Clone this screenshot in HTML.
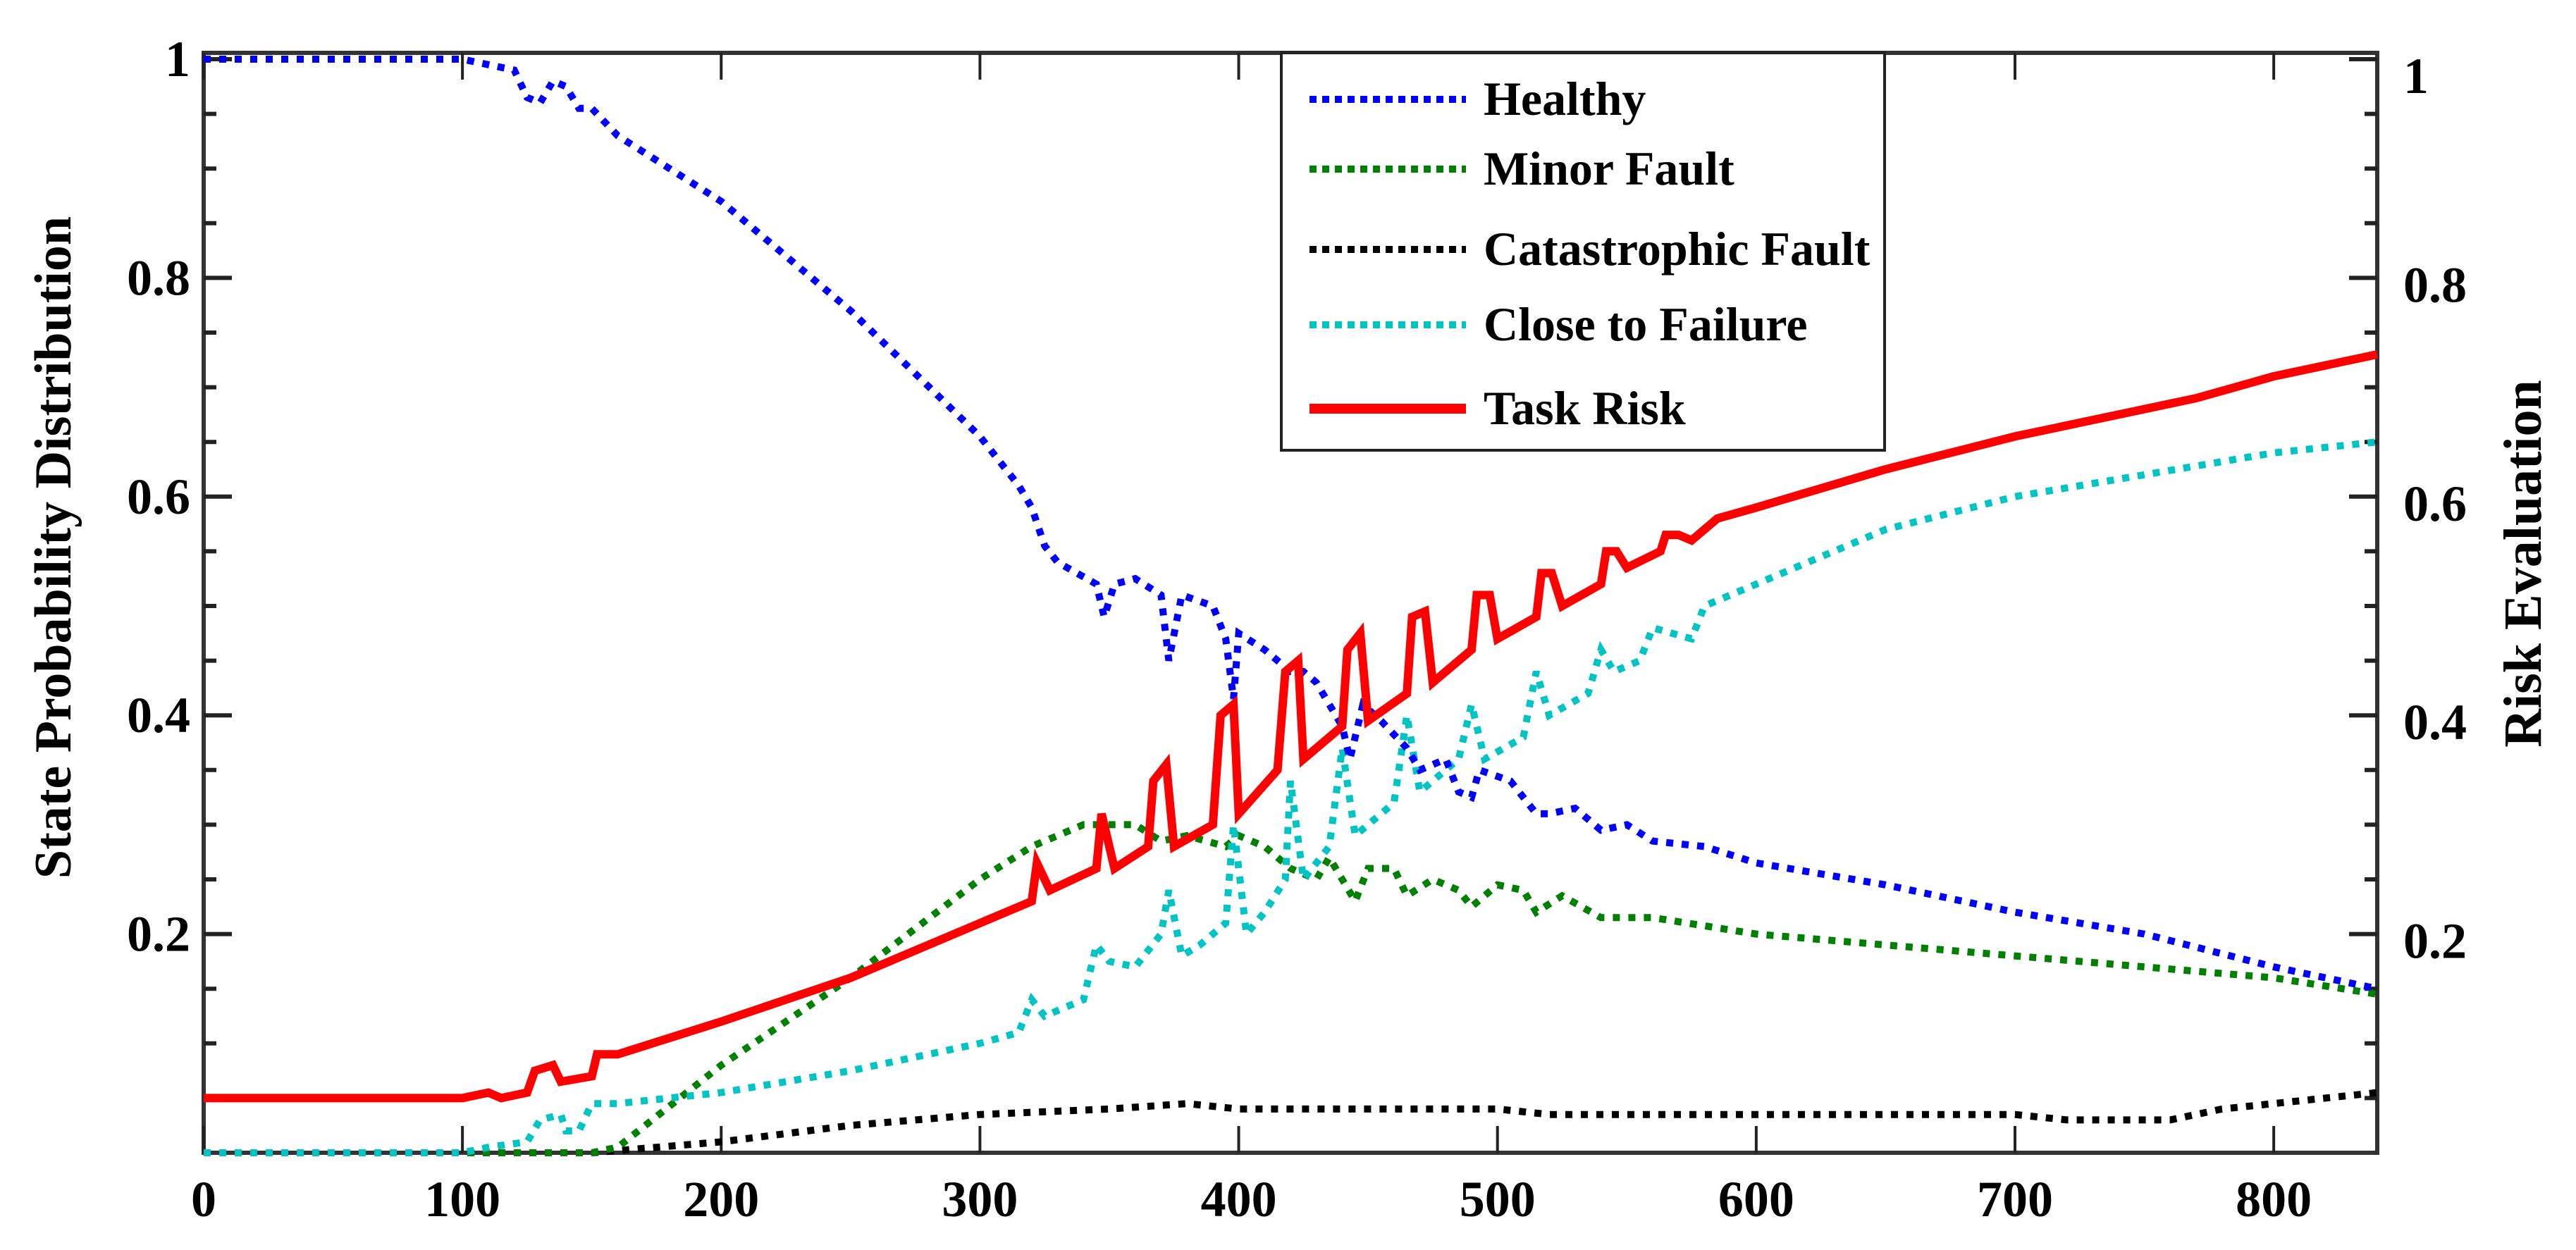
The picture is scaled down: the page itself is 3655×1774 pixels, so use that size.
<!DOCTYPE html>
<html><head><meta charset="utf-8"><style>
html,body{margin:0;padding:0;background:#fff;}
svg{display:block;}
text{font-family:"Liberation Serif",serif;font-weight:bold;fill:#000;}
</style></head><body>
<svg id="chart" width="3655" height="1774" viewBox="0 0 3655 1774" xmlns="http://www.w3.org/2000/svg"></svg>
<script>
const xTicks=[0,100,200,300,400,500,600,700,800];
const yTicksLeft=[0.2,0.4,0.6,0.8,1];
const yTicksRight=[0.2,0.4,0.6,0.8,1];
const healthyX=[0,100,110,120,125,130,135,140,145,150,160,200,250,300,315,320,325,330,345,348,352,360,370,373,378,390,395,398,400,410,420,425,430,440,443,448,455,465,470,480,485,490,493,505,515,520,530,540,550,560,580,600,650,700,750,800,840];
const healthyY=[1,1,0.995,0.99,0.965,0.96,0.98,0.975,0.955,0.955,0.93,0.87,0.77,0.655,0.61,0.59,0.555,0.54,0.52,0.49,0.52,0.525,0.51,0.45,0.51,0.5,0.47,0.415,0.475,0.46,0.44,0.44,0.43,0.39,0.36,0.41,0.395,0.37,0.35,0.36,0.33,0.325,0.35,0.34,0.31,0.31,0.315,0.295,0.3,0.285,0.28,0.265,0.245,0.22,0.2,0.17,0.15];
const minorX=[0,150,160,200,250,300,320,340,360,370,380,395,400,410,420,430,435,440,445,450,460,465,475,485,490,500,510,515,525,540,560,600,650,700,750,800,840];
const minorY=[0,0,0.005,0.08,0.16,0.25,0.28,0.3,0.3,0.285,0.29,0.28,0.29,0.28,0.26,0.25,0.27,0.25,0.23,0.26,0.26,0.235,0.25,0.24,0.225,0.245,0.24,0.22,0.235,0.215,0.215,0.2,0.19,0.18,0.17,0.16,0.145];
const catX=[0,150,200,250,300,350,380,400,450,500,520,600,700,720,760,780,800,840];
const catY=[0,0,0.01,0.025,0.035,0.04,0.045,0.04,0.04,0.04,0.035,0.035,0.035,0.03,0.03,0.04,0.045,0.055];
const closeX=[0,100,110,125,130,138,140,145,150,160,200,250,300,315,320,325,340,345,350,360,370,373,378,385,395,398,403,410,418,420,425,435,440,445,460,465,470,485,490,495,510,515,520,535,540,545,555,560,575,580,600,650,700,750,800,840];
const closeY=[0,0,0.005,0.01,0.03,0.035,0.02,0.02,0.045,0.045,0.055,0.075,0.1,0.11,0.14,0.125,0.14,0.19,0.175,0.17,0.2,0.24,0.18,0.19,0.21,0.3,0.2,0.22,0.25,0.34,0.25,0.28,0.37,0.29,0.32,0.4,0.33,0.36,0.41,0.36,0.38,0.44,0.4,0.42,0.46,0.44,0.45,0.48,0.47,0.5,0.52,0.57,0.6,0.62,0.64,0.65];
const riskX=[0,100,110,115,125,128,135,138,150,152,160,200,250,300,310,320,322,327,345,347,352,365,367,372,375,390,393,398,400,415,418,423,425,440,442,447,450,465,467,472,475,490,492,497,500,515,517,521,525,540,542,546,550,563,565,570,575,585,600,650,700,750,770,800,840];
const riskY=[0.05,0.05,0.055,0.05,0.055,0.075,0.08,0.065,0.07,0.09,0.09,0.12,0.16,0.21,0.22,0.23,0.265,0.24,0.26,0.31,0.26,0.28,0.34,0.355,0.28,0.3,0.4,0.41,0.31,0.35,0.44,0.45,0.36,0.39,0.46,0.475,0.395,0.42,0.49,0.495,0.43,0.46,0.51,0.51,0.47,0.49,0.53,0.53,0.5,0.52,0.55,0.55,0.535,0.55,0.565,0.565,0.56,0.58,0.59,0.625,0.655,0.68,0.69,0.71,0.73];

const NS='http://www.w3.org/2000/svg';
const svg=document.getElementById('chart');
const X0=289,X1=3373,Y0=1636,Y1=84;
const sx=v=>X0+(v/840)*(X1-X0);
const sy=v=>Y0-v*(Y0-Y1);
function mk(tag,attrs,parent){const e=document.createElementNS(NS,tag);for(const k in attrs)e.setAttribute(k,attrs[k]);(parent||svg).appendChild(e);return e;}

const frame=mk('rect',{x:X0,y:75,width:X1-X0,height:Y0-75,fill:'none',stroke:'#333','stroke-width':6});



xTicks.forEach(t=>{
  const x=sx(t);
  const tb=mk('line',{x1:x,y1:Y0,x2:x,y2:Y0-38,stroke:'#222','stroke-width':4});
  
  
  const tt=mk('line',{x1:x,y1:75,x2:x,y2:113,stroke:'#222','stroke-width':4});
  
  
  const lb=mk('text',{x:x,y:1726,'font-size':72,'text-anchor':'middle'});
  lb.textContent=t;
  
  
});
for(let i=1;i<=20;i++){
  const v=i*0.05, y=sy(v), major=(i%4===0);
  const len=major?40:18;
  const l=mk('line',{x1:X0,y1:y,x2:X0+len,y2:y,stroke:'#222','stroke-width':6});
  
  
  const r=mk('line',{x1:X1,y1:y,x2:X1-len,y2:y,stroke:'#222','stroke-width':6});
  
  
}
yTicksLeft.forEach(t=>{
  const lb=mk('text',{x:270,y:sy(t)+24,'font-size':72,'text-anchor':'end'});
  lb.textContent=(t===1?'1':t.toFixed(1));
  
  
});
yTicksRight.forEach(t=>{
  const lb=mk('text',{x:3410,y:sy(t)+(t===1?48:34),'font-size':72,'text-anchor':'start'});
  lb.textContent=(t===1?'1':t.toFixed(1));
  
  
});
const yl=mk('text',{x:0,y:0,'font-size':74,'text-anchor':'middle',transform:'translate(100,777) rotate(-90)'});
yl.textContent='State Probability Distribution';


const yr=mk('text',{x:0,y:0,'font-size':76,'text-anchor':'middle',transform:'translate(3605,800) rotate(-90)'});
yr.textContent='Risk Evaluation';



function series(xs,ys,color,dashed,name){
  const d=xs.map((x,i)=>(i?'L':'M')+sx(x).toFixed(1)+','+sy(ys[i]).toFixed(1)).join(' ');
  const p=mk('path',{d:d,fill:'none',stroke:color,'stroke-width':dashed?10:12,'stroke-dasharray':dashed?'10 12':'none','stroke-linejoin':'miter'});
  
  
}
series(catX,catY,'#000',true,'catastrophic-fault-line');
series(minorX,minorY,'#008000',true,'minor-fault-line');
series(closeX,closeY,'#00c4c4',true,'close-to-failure-line');
series(healthyX,healthyY,'#0000ff',true,'healthy-line');
series(riskX,riskY,'#ff0000',false,'task-risk-line');

const lg=mk('g',{});


const lr=mk('rect',{x:1818,y:75,width:856,height:564,fill:'#fff',stroke:'#222','stroke-width':4},lg);


const entries=[['Healthy','#0000ff',true,141],['Minor Fault','#008000',true,240],['Catastrophic Fault','#000',true,354],['Close to Failure','#00c4c4',true,461],['Task Risk','#ff0000',false,580]];
entries.forEach(e=>{
  const ln=mk('line',{x1:1858,y1:e[3],x2:2080,y2:e[3],stroke:e[1],'stroke-width':e[2]?10:14,'stroke-dasharray':e[2]?'10 8':'none'},lg);
  
  
  const t=mk('text',{x:2105,y:e[3]+22,'font-size':68},lg);
  t.textContent=e[0];
  
  
});
</script>
</body></html>
